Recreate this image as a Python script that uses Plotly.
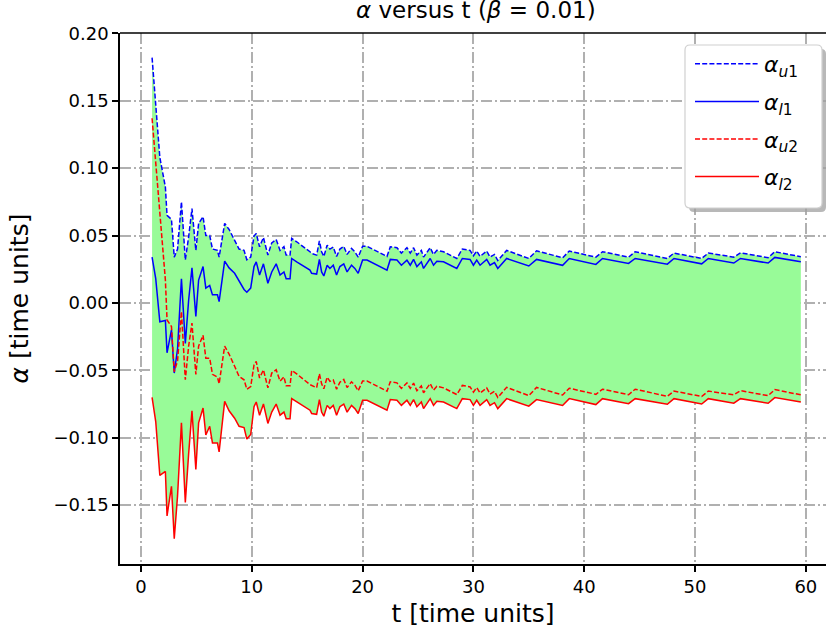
import plotly.graph_objects as go

# time samples
t = [1.0, 1.33, 1.7, 2.2, 2.35, 2.75, 3.0, 3.3, 3.65, 4.0,
     4.3, 4.6, 4.95, 5.2, 5.6, 5.85, 6.2, 6.45, 6.9, 7.05,
     7.55, 7.95, 8.45, 8.85, 9.3, 9.55, 9.9, 10.2, 10.4, 10.7,
     11.05, 11.45, 11.8, 12.2, 12.55, 12.9, 13.1, 13.45, 13.6, 14.05,
     15.25, 15.4, 15.85, 16.1, 16.3, 16.5, 16.8, 17.05, 17.35, 17.65,
     17.95, 18.3, 18.6, 19.0, 19.3, 19.6, 20.0, 20.4, 22.2, 22.5,
     23.1, 23.5, 24.0, 24.3, 24.6, 24.9, 25.3, 25.5, 26.1, 26.4,
     26.7, 27.3, 28.5, 29.0, 29.7, 30.0, 30.3, 30.6, 31.2, 31.5,
     31.9, 32.2, 33.0, 35.0, 35.7, 38.05, 38.65, 41.05, 41.65, 44.0,
     44.6, 47.5, 48.1, 50.6, 51.2, 53.5, 54.1, 56.6, 57.2, 59.55]

alpha_u1 = [0.182, 0.150, 0.108, 0.086, 0.065, 0.062, 0.034, 0.040, 0.075, 0.032,
            0.049, 0.070, 0.039, 0.059, 0.064, 0.050, 0.050, 0.040, 0.039, 0.034,
            0.059, 0.0545, 0.0466, 0.040, 0.039, 0.032, 0.034, 0.0496, 0.0515, 0.0417,
            0.0486, 0.0355, 0.0446, 0.047, 0.039, 0.0417, 0.0355, 0.0355, 0.0479, 0.0454,
            0.038, 0.0368, 0.0355, 0.046, 0.038, 0.0345, 0.0429, 0.040, 0.0415, 0.0345,
            0.040, 0.042, 0.036, 0.0405, 0.038, 0.034, 0.042, 0.042, 0.0345, 0.0417,
            0.041, 0.037, 0.041, 0.037, 0.041, 0.0355, 0.039, 0.034, 0.041, 0.036,
            0.039, 0.038, 0.033, 0.040, 0.039, 0.035, 0.0385, 0.0345, 0.0385, 0.034,
            0.036, 0.0315, 0.039, 0.033, 0.0387, 0.0335, 0.0385, 0.034, 0.038, 0.034,
            0.038, 0.033, 0.037, 0.033, 0.037, 0.034, 0.0372, 0.0336, 0.038, 0.0343]

alpha_l1 = [0.034, 0.018, -0.014, -0.013, -0.037, -0.020, -0.052, -0.034, 0.018, -0.030,
            0.002, 0.026, -0.010, 0.017, 0.027, 0.011, 0.013, 0.006, 0.006, 0.001,
            0.031, 0.026, 0.022, 0.016, 0.010, 0.008, 0.011, 0.027, 0.0305, 0.0207,
            0.029, 0.0146, 0.023, 0.029, 0.0207, 0.023, 0.018, 0.018, 0.033, 0.0305,
            0.0244, 0.022, 0.0214, 0.0323, 0.023, 0.020, 0.028, 0.0256, 0.028, 0.0207,
            0.027, 0.029, 0.023, 0.028, 0.0256, 0.022, 0.0318, 0.0318, 0.0244, 0.0323,
            0.0318, 0.028, 0.0318, 0.028, 0.0323, 0.027, 0.0305, 0.0256, 0.033, 0.028,
            0.031, 0.0305, 0.0256, 0.033, 0.0323, 0.028, 0.0318, 0.028, 0.0323, 0.028,
            0.030, 0.0256, 0.033, 0.0274, 0.0323, 0.0279, 0.033, 0.0286, 0.033, 0.0293,
            0.033, 0.0288, 0.033, 0.029, 0.033, 0.0296, 0.033, 0.0296, 0.0338, 0.0305]

alpha_u2 = [0.137, 0.105, 0.064, 0.017, -0.0126, -0.0175, -0.051, -0.043, -0.0064, -0.057,
            -0.032, -0.015, -0.053, -0.032, -0.024, -0.041, -0.041, -0.053, -0.055, -0.060,
            -0.032, -0.038, -0.047, -0.0545, -0.057, -0.064, -0.062, -0.046, -0.0434, -0.0557,
            -0.0496, -0.063, -0.052, -0.0496, -0.058, -0.0548, -0.0615, -0.0615, -0.0501, -0.0526,
            -0.0606, -0.0613, -0.0629, -0.0525, -0.060, -0.0637, -0.0551, -0.0582, -0.0571, -0.064,
            -0.0588, -0.0568, -0.0628, -0.0585, -0.061, -0.0652, -0.0579, -0.0579, -0.0655, -0.0585,
            -0.0593, -0.0634, -0.0593, -0.0634, -0.0595, -0.0651, -0.0616, -0.0666, -0.0598, -0.0648,
            -0.0618, -0.063, -0.068, -0.0612, -0.0623, -0.0662, -0.0628, -0.0669, -0.063, -0.0676,
            -0.0656, -0.0701, -0.0626, -0.0688, -0.0627, -0.0683, -0.0633, -0.0678, -0.064, -0.0681,
            -0.064, -0.0693, -0.0654, -0.0694, -0.0654, -0.0682, -0.0651, -0.0688, -0.0643, -0.0682]

alpha_l2 = [-0.070, -0.088, -0.128, -0.125, -0.158, -0.136, -0.175, -0.143, -0.089, -0.148,
            -0.112, -0.080, -0.1235, -0.089, -0.078, -0.098, -0.0915, -0.104, -0.104, -0.1105,
            -0.073, -0.080, -0.0855, -0.0915, -0.0925, -0.101, -0.0976, -0.077, -0.0735, -0.0833,
            -0.075, -0.0894, -0.081, -0.075, -0.0833, -0.081, -0.086, -0.086, -0.071, -0.0735,
            -0.0796, -0.082, -0.0826, -0.0717, -0.081, -0.084, -0.076, -0.0784, -0.076, -0.0833,
            -0.077, -0.075, -0.081, -0.076, -0.0784, -0.082, -0.0722, -0.0722, -0.0796, -0.0717,
            -0.0722, -0.076, -0.0722, -0.076, -0.0717, -0.077, -0.0735, -0.0784, -0.071, -0.076,
            -0.073, -0.0735, -0.0784, -0.071, -0.0717, -0.076, -0.0722, -0.076, -0.0717, -0.076,
            -0.074, -0.0784, -0.071, -0.0766, -0.0717, -0.0761, -0.071, -0.0754, -0.071, -0.0747,
            -0.071, -0.0752, -0.071, -0.075, -0.071, -0.0744, -0.071, -0.0744, -0.0702, -0.0735]

x_ticks = [0, 10, 20, 30, 40, 50, 60]
y_ticks = [-0.15, -0.10, -0.05, 0.00, 0.05, 0.10, 0.15, 0.20]

series = [
    ("<i>α</i><sub><i>u</i>1</sub>", alpha_u1, "#0000ff", "5px,2.2px"),
    ("<i>α</i><sub><i>l</i>1</sub>", alpha_l1, "#0000ff", "solid"),
    ("<i>α</i><sub><i>u</i>2</sub>", alpha_u2, "#ff0000", "5px,2.2px"),
    ("<i>α</i><sub><i>l</i>2</sub>", alpha_l2, "#ff0000", "solid"),
]

fig = go.Figure()
# band between the outermost bounds
fig.add_trace(go.Scatter(x=t, y=alpha_l2, mode="lines", line=dict(width=0, color="rgba(0,0,0,0)"),
                         showlegend=False, hoverinfo="skip"))
fig.add_trace(go.Scatter(x=t, y=alpha_u1, mode="lines", line=dict(width=0, color="rgba(0,0,0,0)"),
                         fill="tonexty", fillcolor="#98fb98", showlegend=False, hoverinfo="skip"))
for name, ys, color, dash in series:
    fig.add_trace(go.Scatter(x=t, y=ys, mode="lines", name=name, legendgroup=name,
                             line=dict(color=color, width=1.5, dash=dash)))

grid = dict(showgrid=True, gridcolor="#b0b0b0", gridwidth=1.6, griddash="11px,3px,2px,3px",
            showline=True, linecolor="black", linewidth=1.5, ticks="outside", ticklen=6,
            tickwidth=1.5, tickcolor="black", zeroline=False, tickfont=dict(size=18, color="black"))

# legend frame geometry (pixels -> paper)
L, T, W, H = 120, 33, 706, 531
def px(x):
    return (x - L) / W
def py(y):
    return (T + H - y) / H

def rounded(x0, y0, x1, y1, r=5):
    rx, ry = r / W, r / H
    a, b, c, d = px(x0), py(y1), px(x1), py(y0)  # left, bottom, right, top in paper
    return (f"M{a+rx},{b} L{c-rx},{b} Q{c},{b} {c},{b+ry} L{c},{d-ry} Q{c},{d} {c-rx},{d} "
            f"L{a+rx},{d} Q{a},{d} {a},{d-ry} L{a},{b+ry} Q{a},{b} {a+rx},{b} Z")

fig.update_layout(
    width=826, height=637,
    margin=dict(l=L, r=0, t=T, b=637 - T - H),
    paper_bgcolor="white", plot_bgcolor="white",
    font=dict(family="DejaVu Sans", size=18, color="black"),
    title=dict(text="<i>α</i> versus t (<i>β</i> = 0.01)", font=dict(size=23),
               xref="paper", x=0.504, xanchor="center", yref="container", y=0.997, yanchor="top"),
    xaxis=dict(range=[-1.895, 61.82], tickvals=x_ticks, ticktext=[str(v) for v in x_ticks],
               title=dict(text="t [time units]", font=dict(size=25), standoff=8), **grid),
    yaxis=dict(range=[-0.1937, 0.2003], tickvals=y_ticks, ticktext=[f"{v:.2f}".replace("-", "\u2212") for v in y_ticks],
               title=dict(text="<i>α</i> [time units]", font=dict(size=25), standoff=18), **grid),
    legend=dict(x=px(690), y=py(43), xanchor="left", yanchor="top", bgcolor="rgba(0,0,0,0)",
                borderwidth=0, font=dict(size=22), tracegroupgap=6, itemwidth=64),
    shapes=[
        dict(type="line", xref="paper", yref="paper", x0=0, x1=1, y0=1, y1=1,
             line=dict(color="black", width=1.5), layer="above"),
        dict(type="path", xref="paper", yref="paper", path=rounded(689, 49, 826, 212),
             fillcolor="#a0a0a0", opacity=0.75, line=dict(width=0), layer="above"),
        dict(type="path", xref="paper", yref="paper", path=rounded(685, 45, 822, 208),
             fillcolor="white", line=dict(color="#d0d0d0", width=1.2), layer="above"),
    ],
)

fig.write_html("out.html")
